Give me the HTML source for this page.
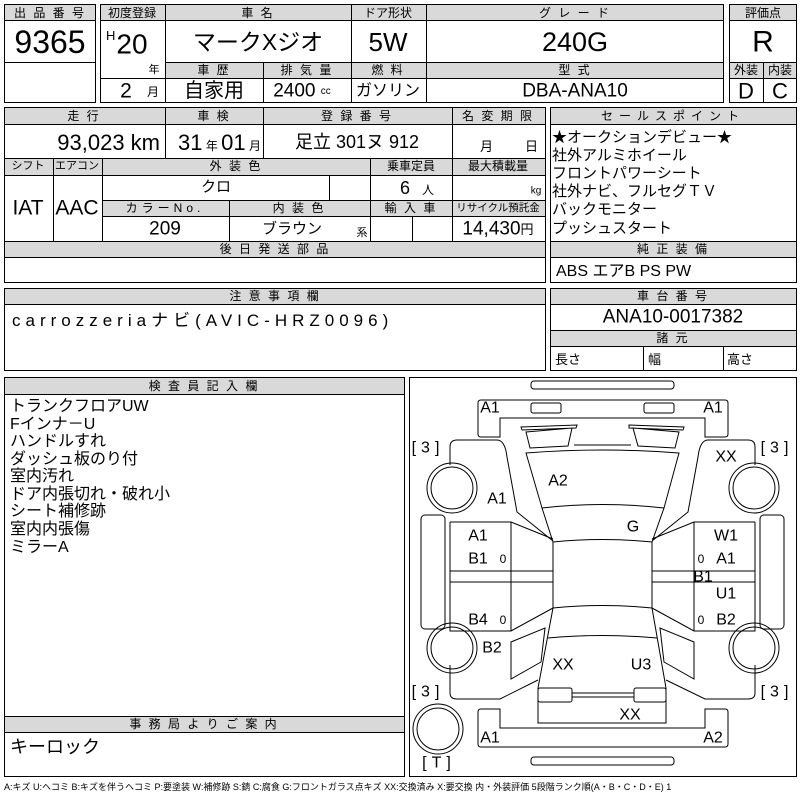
<!DOCTYPE html>
<html><head><meta charset="utf-8"><style>
html,body{margin:0;padding:0;background:#fff;width:800px;height:800px;overflow:hidden}
svg{display:block}
text{font-family:"Liberation Sans","Noto Sans CJK JP",sans-serif;fill:#000}
.h{font-size:12px;text-anchor:middle;dominant-baseline:central;letter-spacing:2px}
.c{text-anchor:middle;dominant-baseline:central}
.d{font-size:16px;text-anchor:middle;dominant-baseline:central}
</style></head><body>
<svg width="800" height="800" viewBox="0 0 800 800" xmlns="http://www.w3.org/2000/svg">
<g fill="#d9d9d9" stroke="none">
<rect x="4" y="4" width="92" height="16"/>
<rect x="100" y="4" width="624" height="16"/>
<rect x="165" y="62" width="559" height="16"/>
<rect x="729" y="4" width="68" height="16"/>
<rect x="729" y="62" width="68" height="16"/>
<rect x="4" y="107" width="542" height="17"/>
<rect x="4" y="158" width="542" height="17"/>
<rect x="102" y="200" width="444" height="16"/>
<rect x="4" y="241" width="542" height="16"/>
<rect x="550" y="107" width="247" height="17"/>
<rect x="550" y="241" width="247" height="16"/>
<rect x="4" y="288" width="542" height="16"/>
<rect x="550" y="288" width="247" height="16"/>
<rect x="550" y="330" width="247" height="16"/>
<rect x="4" y="377" width="401" height="17"/>
<rect x="4" y="716" width="401" height="16"/>
</g>
<g fill="none" stroke="#000" stroke-width="1">
<rect x="4.5" y="4.5" width="91" height="98"/>
<path d="M4 20.5H96M4 62.5H96"/>
<rect x="100.5" y="4.5" width="623" height="98"/>
<path d="M100 20.5H724M165 62.5H724M100 78.5H724M165.5 4V102M351.5 4V102M426.5 4V102M263.5 62V102"/>
<rect x="729.5" y="4.5" width="67" height="98"/>
<path d="M729 20.5H797M729 62.5H797M729 78.5H797M763.5 62V102"/>
<rect x="4.5" y="107.5" width="541" height="175"/>
<path d="M4 124.5H546M4 158.5H546M4 175.5H546M102 200.5H546M102 216.5H546M4 241.5H546M4 257.5H546
M165.5 107V158M263.5 107V158M452.5 107V241M53.5 158V241M102.5 158V241M370.5 158V241M229.5 200V241M329.5 175V200M412.5 216V241"/>
<rect x="550.5" y="107.5" width="246" height="175"/>
<path d="M550 124.5H797M550 241.5H797M550 257.5H797"/>
<rect x="4.5" y="288.5" width="541" height="82"/>
<path d="M4 304.5H546"/>
<rect x="550.5" y="288.5" width="246" height="82"/>
<path d="M550 304.5H797M550 330.5H797M550 346.5H797M643.5 346V370M723.5 346V370"/>
<rect x="4.5" y="377.5" width="400" height="399"/>
<path d="M4 394.5H405M4 716.5H405M4 732.5H405"/>
<rect x="409.5" y="377.5" width="387" height="399"/>
</g>

<text class="h" x="50" y="13">出 品 番 号</text>
<text class="c" x="50" y="42" font-size="32">9365</text>
<text class="h" x="132" y="13" style="letter-spacing:0">初度登録</text>
<text class="h" x="258" y="13">車 名</text>
<text class="h" x="388" y="13" style="letter-spacing:0">ドア形状</text>
<text class="h" x="575" y="13">グ レ ー ド</text>
<text x="106" y="40" font-size="13">H</text>
<text class="c" x="132" y="44" font-size="28">20</text>
<text class="c" x="154" y="70" font-size="11">年</text>
<text class="c" x="126" y="91" font-size="21">2</text>
<text class="c" x="153" y="92" font-size="12">月</text>
<text class="c" x="258" y="42" font-size="23">マークXジオ</text>
<text class="c" x="388" y="42" font-size="26">5W</text>
<text class="c" x="575" y="42" font-size="27">240G</text>
<text class="h" x="214" y="70">車 歴</text>
<text class="h" x="307" y="70">排 気 量</text>
<text class="h" x="388" y="70">燃 料</text>
<text class="h" x="575" y="70">型 式</text>
<text class="c" x="214" y="91" font-size="20">自家用</text>
<text class="c" x="302" y="91" font-size="19">2400 <tspan font-size="10">cc</tspan></text>
<text class="c" x="388" y="91" font-size="16">ガソリン</text>
<text class="c" x="575" y="91" font-size="19">DBA-ANA10</text>
<text class="h" x="763" y="13" style="letter-spacing:0">評価点</text>
<text class="c" x="763" y="42" font-size="30">R</text>
<text class="h" x="746" y="70" style="letter-spacing:0">外装</text>
<text class="h" x="780" y="70" style="letter-spacing:0">内装</text>
<text class="c" x="746" y="91" font-size="22">D</text>
<text class="c" x="780" y="91" font-size="22">C</text>

<text class="h" x="84" y="116">走 行</text>
<text class="h" x="214" y="116">車 検</text>
<text class="h" x="357" y="116">登 録 番 号</text>
<text class="h" x="498" y="116">名 変 期 限</text>
<text x="160" y="150" font-size="22" text-anchor="end">93,023 km</text>
<text x="178" y="150" font-size="22">31<tspan font-size="12"> 年 </tspan>01<tspan font-size="12"> 月</tspan></text>
<text class="c" x="357" y="142" font-size="18">足立 301ヌ 912</text>
<text x="480" y="151" font-size="13">月</text><text x="525" y="151" font-size="13">日</text>
<text class="h" x="28" y="166" style="font-size:11px;letter-spacing:0">シフト</text>
<text class="h" x="77" y="166" style="font-size:11px;letter-spacing:0">エアコン</text>
<text class="h" x="236" y="166">外 装 色</text>
<text class="h" x="411" y="166" style="letter-spacing:0">乗車定員</text>
<text class="h" x="498" y="166" style="letter-spacing:0">最大積載量</text>
<text class="c" x="28" y="208" font-size="21">IAT</text>
<text class="c" x="77" y="208" font-size="21">AAC</text>
<text class="c" x="216" y="187" font-size="15">クロ</text>
<text class="c" x="405" y="188" font-size="18">6</text>
<text class="c" x="428" y="190" font-size="12">人</text>
<text class="c" x="536" y="191" font-size="10">kg</text>
<text class="h" x="165" y="208" style="letter-spacing:4px">カラーNo.</text>
<text class="h" x="299" y="208">内 装 色</text>
<text class="h" x="411" y="208">輸 入 車</text>
<text class="h" x="498" y="208" style="font-size:10.5px;letter-spacing:0">リサイクル預託金</text>
<text class="c" x="165" y="229" font-size="19">209</text>
<text class="c" x="292" y="229" font-size="15">ブラウン</text>
<text class="c" x="362" y="233" font-size="11">系</text>
<text class="c" x="498" y="229" font-size="19">14,430<tspan font-size="13">円</tspan></text>
<text class="h" x="275" y="249">後 日 発 送 部 品</text>

<text class="h" x="673" y="116" style="letter-spacing:6px">セールスポイント</text>
<g font-size="15">
<text x="552" y="142">★オークションデビュー★</text>
<text x="552" y="160">社外アルミホイール</text>
<text x="552" y="178">フロントパワーシート</text>
<text x="552" y="196">社外ナビ、フルセグＴＶ</text>
<text x="552" y="214">バックモニター</text>
<text x="552" y="233">プッシュスタート</text>
</g>
<text class="h" x="673" y="249">純 正 装 備</text>
<text x="556" y="276" font-size="16">ABS エアB PS PW</text>

<text class="h" x="275" y="296">注 意 事 項 欄</text>
<text x="12" y="326" font-size="17" letter-spacing="5">carrozzeriaナビ(AVIC-HRZ0096)</text>
<text class="h" x="673" y="296">車 台 番 号</text>
<text class="c" x="673" y="317" font-size="19">ANA10-0017382</text>
<text class="h" x="673" y="338">諸 元</text>
<text x="555" y="364" font-size="13">長さ</text>
<text x="648" y="364" font-size="13">幅</text>
<text x="727" y="364" font-size="13">高さ</text>

<text class="h" x="204" y="386">検 査 員 記 入 欄</text>
<g font-size="16">
<text x="10" y="411">トランクフロアUW</text>
<text x="10" y="429">Fインナ－U</text>
<text x="10" y="446">ハンドルすれ</text>
<text x="10" y="464">ダッシュ板のり付</text>
<text x="10" y="481">室内汚れ</text>
<text x="10" y="499">ドア内張切れ・破れ小</text>
<text x="10" y="516">シート補修跡</text>
<text x="10" y="534">室内内張傷</text>
<text x="10" y="552">ミラーA</text>
</g>
<text class="h" x="204" y="724">事 務 局 よ り ご 案 内</text>
<text x="10" y="753" font-size="18">キーロック</text>
<text x="4" y="790" font-size="9">A:キズ U:ヘコミ B:キズを伴うヘコミ P:要塗装 W:補修跡 S:錆 C:腐食 G:フロントガラス点キズ XX:交換済み X:要交換 内・外装評価 5段階ランク順(A・B・C・D・E) 1</text>

<g transform="translate(405,375)" fill="none" stroke="#000" stroke-width="1">
<rect x="126" y="6" width="143" height="8" rx="3"/>
<rect x="126" y="382" width="143" height="8" rx="3"/>
<path d="M76,25 H320 Q323,25 323,28 V59 Q323,62 320,62 H300 V43 H95 V62 H76 Q73,62 73,59 V28 Q73,25 76,25 Z"/>
<rect x="126" y="28" width="30" height="10" rx="2"/>
<rect x="239" y="28" width="30" height="10" rx="2"/>
<path d="M76,334 H95 V353 H300 V334 H320 Q323,334 323,337 V369 Q323,372 320,372 H76 Q73,372 73,369 V337 Q73,334 76,334 Z"/>
<path d="M116,52 L172,50 L171,53 L117,55 Z M121,57 L167,53 L163,71 L125,73 Z"/>
<path d="M224,50 L279,52 L278,55 L224,53 Z M228,53 L274,57 L270,73 L233,71 Z"/>
<path d="M169,70 L226,70"/>
<path d="M121,78 Q197,72 274,78 L259,133 Q197,126 137,133 Z"/>
<path d="M45,90 V72 Q45,65 52,65 H92 Q100,65 102,82 L112,137 L148,166"/>
<path d="M350,90 V72 Q350,65 343,65 H303 Q295,65 293,82 L283,137 L247,166"/>
<path d="M137,133 L148,167 M259,133 L247,167"/>
<path d="M148,167 Q197,162 247,167 V233 Q197,228 148,233 Z"/>
<path d="M45,147 H106 L148,164 M350,147 H289 L247,164"/>
<path d="M45,147 V256 H106 L148,233 M350,147 V256 H289 L247,233"/>
<path d="M106,147 V256 M289,147 V256"/>
<path d="M45,196 H148 M45,207 H148 M350,196 H247 M350,207 H247"/>
<path d="M148,233 L133,313 M247,233 L261,313"/>
<path d="M143,263 Q197,258 252,263"/>
<path d="M106,267 L140,253 L136,287 L106,304 Z M289,267 L255,253 L259,287 L289,304 Z"/>
<path d="M45,290 V318 Q45,324 52,324 H95 L133,305 M350,290 V318 Q350,324 343,324 H300 L261,305"/>
<path d="M133,313 V348 H261 V313"/>
<rect x="133" y="313" width="34" height="14" rx="2"/>
<rect x="229" y="313" width="32" height="14" rx="2"/>
<path d="M167,318 H229 M167,322 H229"/>
<rect x="16" y="140" width="24" height="114" rx="4"/>
<rect x="355" y="140" width="24" height="114" rx="4"/>
<circle cx="47" cy="113" r="25"/><circle cx="47" cy="113" r="21"/>
<circle cx="349" cy="113" r="25"/><circle cx="349" cy="113" r="21"/>
<circle cx="47" cy="273" r="25"/><circle cx="47" cy="273" r="21"/>
<circle cx="349" cy="273" r="25"/><circle cx="349" cy="273" r="21"/>
<circle cx="33" cy="354" r="25"/><circle cx="33" cy="354" r="21"/>
</g>
<g transform="translate(405,375)">
<text class="d" x="85" y="33">A1</text><text class="d" x="308" y="33">A1</text>
<text class="d" x="23" y="73" style="letter-spacing:5px">[3]</text><text class="d" x="372" y="73" style="letter-spacing:5px">[3]</text>
<text class="d" x="321" y="82">XX</text>
<text class="d" x="153" y="106">A2</text>
<text class="d" x="92" y="124">A1</text>
<text class="d" x="228" y="152">G</text>
<text class="d" x="73" y="161">A1</text><text class="d" x="321" y="161">W1</text>
<text class="d" x="73" y="184">B1</text><text class="d" x="98" y="184" style="font-size:12px">0</text>
<text class="d" x="296" y="184" style="font-size:12px">0</text><text class="d" x="321" y="184">A1</text>
<text class="d" x="298" y="202">B1</text>
<text class="d" x="321" y="219">U1</text>
<text class="d" x="73" y="245">B4</text><text class="d" x="98" y="245" style="font-size:12px">0</text>
<text class="d" x="296" y="245" style="font-size:12px">0</text><text class="d" x="321" y="245">B2</text>
<text class="d" x="87" y="273">B2</text>
<text class="d" x="158" y="290">XX</text><text class="d" x="236" y="290">U3</text>
<text class="d" x="23" y="317" style="letter-spacing:5px">[3]</text><text class="d" x="372" y="317" style="letter-spacing:5px">[3]</text>
<text class="d" x="225" y="340">XX</text>
<text class="d" x="85" y="363">A1</text><text class="d" x="308" y="363">A2</text>
<text class="d" x="34" y="388" style="letter-spacing:5px">[T]</text>
</g>
</svg>
</body></html>
